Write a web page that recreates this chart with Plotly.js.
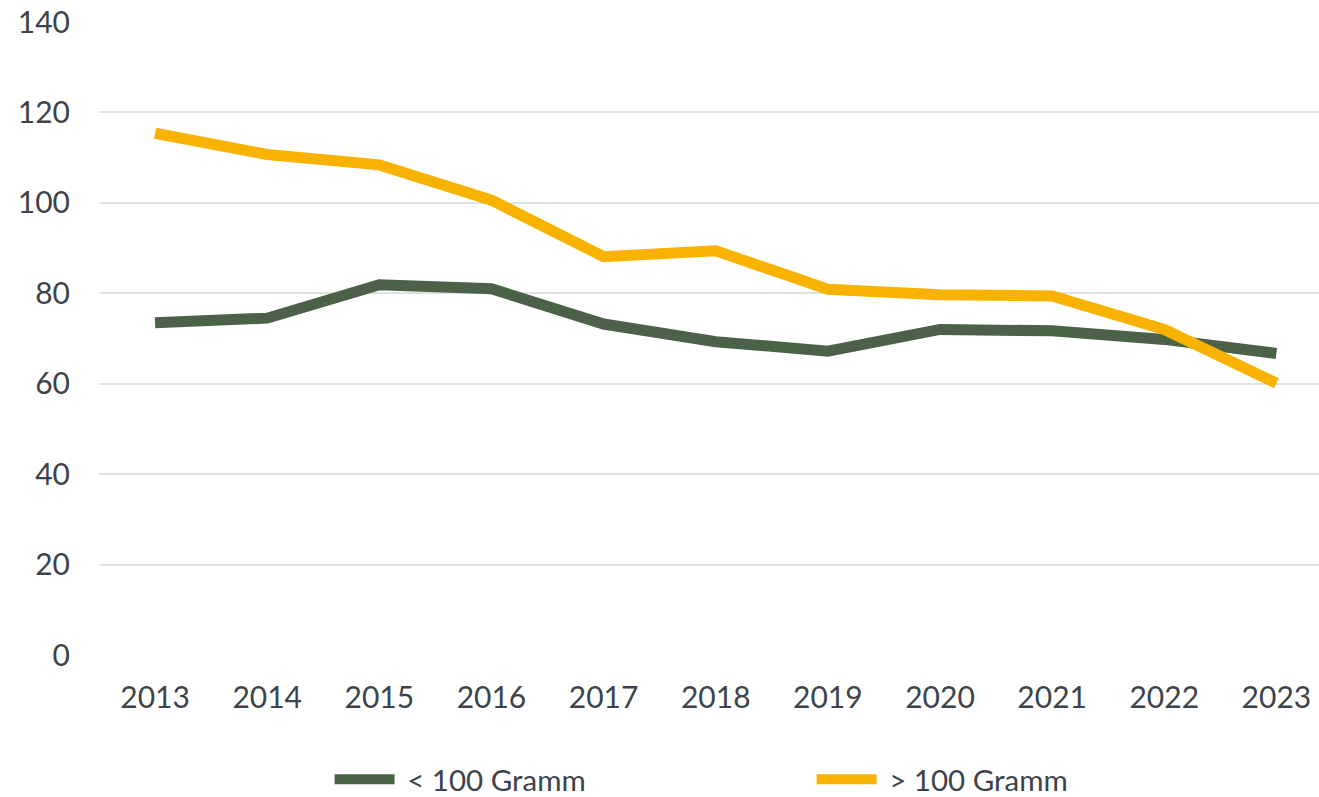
<!DOCTYPE html>
<html>
<head>
<meta charset="utf-8">
<script src="https://cdn.plot.ly/plotly-3.0.1.min.js"></script>
<style>
html,body{margin:0;padding:0;background:#fff;}
#chart{width:1319px;height:797px;}
</style>
</head>
<body>
<div id="chart"></div>
<script>
const years = ["2013","2014","2015","2016","2017","2018","2019","2020","2021","2022","2023"];
const under100 = [73.5, 74.5, 81.9, 81.0, 73.2, 69.3, 67.2, 72.0, 71.7, 69.8, 66.7];
const over100 = [115.4, 110.7, 108.4, 100.6, 88.1, 89.4, 80.9, 79.7, 79.4, 72.0, 60.1];
const seriesNames = ["\u00a0< 100 Gramm", "\u00a0> 100 Gramm"];
const yTicks = [0, 20, 40, 60, 80, 100, 120, 140];

const fontFam = "Lato, 'Open Sans', sans-serif";
const textColor = "#3d434a";

const traces = [
  {x: years, y: under100, name: seriesNames[0], type: "scatter", mode: "lines",
   line: {color: "#4b6249", width: 11}},
  {x: years, y: over100, name: seriesNames[1], type: "scatter", mode: "lines",
   line: {color: "#f9b200", width: 11}}
];

const layout = {
  width: 1319, height: 797,
  margin: {l: 99, r: 0, t: 22, b: 142},
  paper_bgcolor: "#fff", plot_bgcolor: "#fff",
  font: {family: fontFam, size: 30, color: textColor},
  xaxis: {
    type: "category", range: [-0.5, 10.38],
    showgrid: false, zeroline: false, showline: false,
    ticks: "", ticklabelstandoff: 22,
    tickfont: {family: fontFam, size: 30, color: textColor}
  },
  yaxis: {
    range: [0, 140], tickvals: yTicks, ticktext: yTicks.map(String),
    showgrid: true, gridcolor: "#dfe2e5", gridwidth: 2,
    zeroline: false, showline: false, ticks: "", ticklabelstandoff: 28,
    tickfont: {family: fontFam, size: 30, color: textColor}
  },
  showlegend: true,
  legend: {
    orientation: "h", x: 0.189, xanchor: "left",
    yref: "container", y: 0.022, yanchor: "middle",
    itemwidth: 60, entrywidth: 407,
    font: {family: fontFam, size: 29.5, color: textColor}
  }
};

Plotly.newPlot("chart", traces, layout, {displayModeBar: false, staticPlot: true});
</script>
</body>
</html>
